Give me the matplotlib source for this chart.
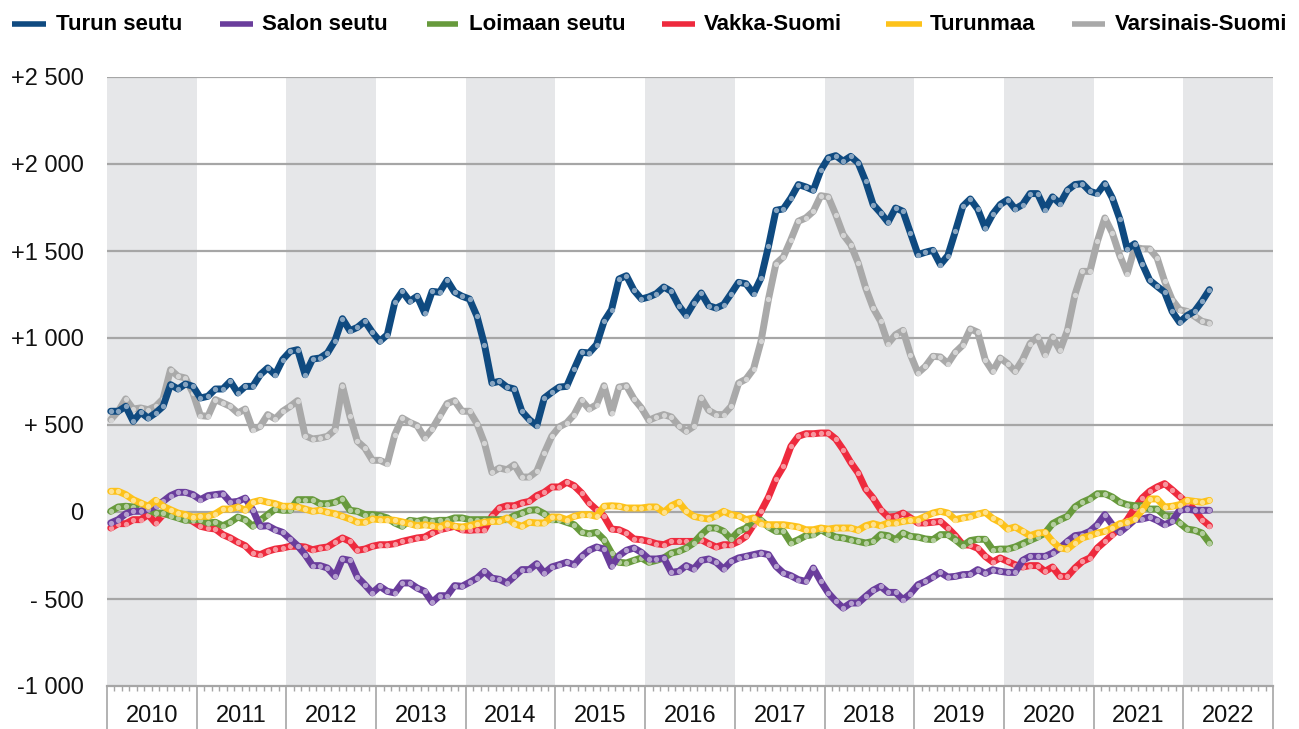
import matplotlib
matplotlib.use("Agg")
import matplotlib.pyplot as plt
from matplotlib.lines import Line2D
from matplotlib import font_manager
import matplotlib.transforms as mtransforms
import numpy as np

# ---------------- data (monthly, Jan 2010 - Apr 2022) ----------------
years = list(range(2010, 2023))
series_names = ["Turun seutu", "Salon seutu", "Loimaan seutu", "Vakka-Suomi", "Turunmaa", "Varsinais-Suomi"]

turun = [
    579, 579, 607, 521, 573, 540, 569, 607, 732, 707, 736, 722,
    655, 665, 707, 707, 751, 684, 722, 722, 789, 828, 789, 876,
    923, 933, 789, 879, 885, 914, 985, 1111, 1042, 1061, 1096, 1033,
    981, 1019, 1205, 1268, 1211, 1240, 1144, 1268, 1263, 1332, 1263, 1240,
    1224, 1125, 962, 741, 751, 718, 707, 579, 531, 496, 655, 688,
    718, 722, 822, 918, 914, 962, 1096, 1163, 1339, 1358, 1274, 1224,
    1236, 1255, 1293, 1268, 1186, 1129, 1201, 1259, 1186, 1172, 1192, 1255,
    1320, 1312, 1255, 1345, 1527, 1734, 1742, 1805, 1882, 1868, 1849, 1964,
    2035, 2048, 2016, 2044, 2006, 1901, 1767, 1719, 1665, 1747, 1728, 1604,
    1479, 1493, 1504, 1422, 1474, 1613, 1757, 1799, 1740, 1632, 1712, 1767,
    1795, 1742, 1767, 1830, 1830, 1738, 1811, 1772, 1849, 1882, 1887, 1843,
    1830, 1887, 1805, 1684, 1512, 1542, 1427, 1332, 1297, 1263, 1153, 1090,
    1129, 1153, 1211, 1278,
]
salon = [
    -63, -44, -10, 4, 4, 17, 33, 61, 94, 113, 113, 100,
    71, 94, 100, 105, 56, 61, 80, 13, -82, -79, -102, -117,
    -155, -194, -245, -308, -308, -322, -370, -270, -278, -374, -418, -465,
    -427, -456, -465, -408, -408, -437, -456, -519, -481, -481, -423, -427,
    -404, -380, -341, -380, -387, -408, -370, -331, -331, -297, -351, -316,
    -303, -289, -303, -255, -220, -201, -213, -312, -251, -220, -207, -232,
    -270, -270, -264, -347, -341, -308, -328, -278, -270, -289, -328, -284,
    -264, -255, -245, -236, -245, -312, -351, -366, -389, -399, -322, -399,
    -465, -513, -552, -523, -523, -485, -450, -427, -462, -462, -504, -469,
    -418, -399, -374, -347, -374, -370, -360, -358, -331, -353, -332, -341,
    -347, -347, -278, -255, -255, -255, -236, -207, -169, -136, -130, -111,
    -73, -15, -73, -117, -82, -44, -40, -29, -48, -73, -54, 10,
    17, 10, 10, 10,
]
loimaa = [
    4, 29, 33, 29, 23, 13, -6, -6, -21, -34, -48, -44,
    -44, -63, -59, -79, -59, -29, -44, -82, -48, -15, 17, 10,
    10, 71, 71, 71, 48, 48, 56, 75, 10, 4, -15, -15,
    -21, -34, -63, -82, -48, -54, -44, -54, -48, -48, -34, -34,
    -44, -44, -44, -44, -44, -44, -21, -6, 10, 13, -10, -44,
    -44, -59, -73, -117, -125, -117, -159, -236, -289, -293, -278, -264,
    -289, -278, -264, -236, -226, -207, -178, -130, -92, -92, -111, -155,
    -111, -92, -44, -48, -86, -111, -111, -178, -159, -136, -130, -102,
    -125, -144, -149, -159, -169, -178, -169, -130, -136, -159, -121, -140,
    -144, -155, -159, -130, -130, -159, -194, -164, -157, -157, -217, -213,
    -213, -201, -182, -163, -144, -121, -67, -44, -25, 29, 56, 75,
    105, 105, 86, 56, 42, 36, 36, 17, 17, -21, -25, -63,
    -98, -105, -121, -178,
]
vakka = [
    -92, -67, -67, -44, -44, -15, -63, -15, -6, -15, -34, -54,
    -82, -92, -98, -130, -149, -174, -194, -236, -245, -226, -213, -207,
    -197, -197, -201, -217, -207, -201, -174, -149, -169, -220, -213, -197,
    -188, -188, -182, -169, -159, -149, -144, -121, -102, -92, -82, -102,
    -105, -102, -102, -25, 23, 36, 36, 52, 61, 94, 113, 144,
    144, 171, 151, 109, 52, 13, -25, -98, -102, -121, -155, -159,
    -169, -182, -188, -169, -169, -169, -169, -159, -182, -201, -188, -188,
    -169, -140, -73, 4, 86, 190, 262, 377, 435, 450, 450, 454,
    454, 420, 358, 285, 224, 132, 80, 13, -29, -25, -6, -34,
    -63, -63, -59, -54, -92, -136, -188, -191, -209, -255, -287, -264,
    -284, -303, -316, -308, -308, -341, -316, -370, -370, -322, -284, -264,
    -207, -169, -130, -92, -44, 23, 80, 119, 144, 163, 128, 90,
    52, 13, -44, -79,
]
turunmaa = [
    119, 119, 100, 71, 52, 33, 67, 33, 13, -6, -15, -29,
    -25, -25, -10, 17, 17, 29, 10, 56, 67, 56, 48, 33,
    33, 29, 17, 4, 10, -2, -10, -25, -40, -59, -59, -40,
    -44, -44, -48, -57, -67, -79, -73, -79, -86, -67, -82, -86,
    -79, -67, -59, -54, -54, -34, -67, -82, -59, -63, -63, -29,
    -29, -44, -25, -15, -15, -25, 33, 36, 33, 23, 23, 23,
    29, 29, -2, 36, 56, 4, -25, -34, -40, -21, 4, -15,
    -21, -44, -34, -67, -73, -73, -73, -79, -86, -102, -102, -92,
    -98, -92, -92, -92, -105, -79, -67, -79, -63, -63, -54, -48,
    -44, -25, -6, 4, -6, -44, -34, -27, -12, -2, -37, -59,
    -98, -86, -111, -136, -121, -117, -169, -207, -213, -178, -149, -136,
    -121, -111, -92, -67, -59, -40, 10, 75, 75, 29, 33, 42,
    67, 61, 56, 67,
]
varsinais = [
    531, 579, 650, 592, 598, 588, 607, 650, 818, 780, 770, 684,
    554, 550, 646, 627, 607, 569, 592, 473, 492, 560, 535, 579,
    607, 640, 439, 420, 425, 435, 473, 726, 550, 406, 368, 297,
    297, 278, 444, 540, 515, 496, 425, 477, 550, 623, 640, 579,
    579, 508, 397, 228, 253, 243, 272, 201, 201, 234, 339, 435,
    489, 512, 560, 642, 592, 617, 726, 569, 718, 726, 650, 598,
    527, 546, 560, 546, 496, 464, 492, 655, 584, 560, 560, 607,
    741, 764, 822, 981, 1224, 1427, 1466, 1565, 1671, 1690, 1728, 1818,
    1811, 1709, 1594, 1537, 1431, 1288, 1173, 1096, 968, 1019, 1044, 904,
    799, 837, 895, 891, 853, 918, 959, 1052, 1033, 874, 808, 885,
    853, 808, 876, 968, 1006, 904, 1006, 929, 1044, 1249, 1383, 1383,
    1555, 1690, 1604, 1474, 1370, 1521, 1513, 1512, 1460, 1326, 1220, 1163,
    1153, 1125, 1096, 1086,
]

y_ticks = [2500, 2000, 1500, 1000, 500, 0, -500, -1000]
y_tick_labels = ["+2 500", "+2 000", "+1 500", "+1 000", "+ 500", "0", "- 500", "-1 000"]

# ---------------- style ----------------
colors = {
    "Turun seutu": "#0f4a80",
    "Salon seutu": "#6a3d9c",
    "Loimaan seutu": "#679a3c",
    "Vakka-Suomi": "#ee2a3d",
    "Turunmaa": "#fdc21a",
    "Varsinais-Suomi": "#a9a9a9",
}
values = {
    "Turun seutu": turun,
    "Salon seutu": salon,
    "Loimaan seutu": loimaa,
    "Vakka-Suomi": vakka,
    "Turunmaa": turunmaa,
    "Varsinais-Suomi": varsinais,
}
zorders = {"Varsinais-Suomi": 3, "Vakka-Suomi": 4, "Loimaan seutu": 5,
           "Salon seutu": 6, "Turunmaa": 7, "Turun seutu": 8}

available = {f.name for f in font_manager.fontManager.ttflist}
tick_font = "Liberation Sans" if "Liberation Sans" in available else "DejaVu Sans"
if "Liberation Sans Narrow" in available:
    leg_font, leg_size = "Liberation Sans Narrow", 20
else:
    leg_font, leg_size = tick_font, 16


def lighten(c, amt=0.5):
    r, g, b = matplotlib.colors.to_rgb(c)
    return (r + (1 - r) * amt, g + (1 - g) * amt, b + (1 - b) * amt)


W, H = 1299, 729
fig = plt.figure(figsize=(W / 100, H / 100), dpi=100)
ax = fig.add_axes([107 / W, (H - 686) / H, (1273 - 107) / W, (686 - 77) / H])

# year bands
for i, yr in enumerate(years):
    if i % 2 == 0:
        ax.axvspan(yr, yr + 1, color="#e6e7e9", lw=0, zorder=0)

# grid lines
for v in y_ticks[:-1]:
    ax.axhline(v, color="#a6a6a6", lw=1.6, zorder=1)

# series
for name in series_names:
    vals = values[name]
    x = [years[0] + (k + 0.5) / 12 for k in range(len(vals))]
    ax.plot(x, vals, color=colors[name], lw=5.0, solid_joinstyle="round",
            solid_capstyle="round", marker="o", ms=3.8,
            markerfacecolor=lighten(colors[name], 0.5), markeredgewidth=0,
            zorder=zorders[name])

ax.set_xlim(years[0], years[-1] + 1)
ax.set_ylim(-1000, 2500)

for s in ["top", "right", "left"]:
    ax.spines[s].set_visible(False)
ax.spines["bottom"].set_color("#a6a6a6")
ax.spines["bottom"].set_linewidth(1.6)
ax.spines["bottom"].set_zorder(2)

ax.set_yticks(y_ticks)
ax.set_yticklabels(y_tick_labels, fontsize=17, family=tick_font, color="#111111")
ax.tick_params(axis="y", length=0, pad=17)

major = list(range(years[0], years[-1] + 2))
minor = [yr + m / 12 for yr in years for m in range(1, 12)]
ax.set_xticks(major)
ax.set_xticks(minor, minor=True)
ax.set_xticklabels([])
ax.tick_params(axis="x", which="major", length=31, width=1.2, color="#a6a6a6")
ax.tick_params(axis="x", which="minor", length=3.5, width=1.0, color="#a6a6a6")

trans = mtransforms.blended_transform_factory(ax.transData, ax.transAxes)
for yr in years:
    ax.text(yr + 0.5, -30 / 609, str(yr), transform=trans, ha="center", va="center",
            fontsize=17, family=tick_font, color="#111111")

# legend (manual)
leg_y = 1 - 24 / H
handles = [(12, 46, 56), (220, 253, 262), (427, 458, 469),
           (662, 695, 704), (886, 922, 930), (1072, 1105, 1115)]
for name, (x0, x1, xt) in zip(series_names, handles):
    fig.add_artist(Line2D([x0 / W, x1 / W], [leg_y, leg_y], transform=fig.transFigure,
                          color=colors[name], lw=4.0, solid_capstyle="butt"))
    fig.text(xt / W, leg_y, name, ha="left", va="center", fontsize=leg_size,
             family=leg_font, fontweight="bold", color="#000000")

fig.savefig("out.png", dpi=100)
